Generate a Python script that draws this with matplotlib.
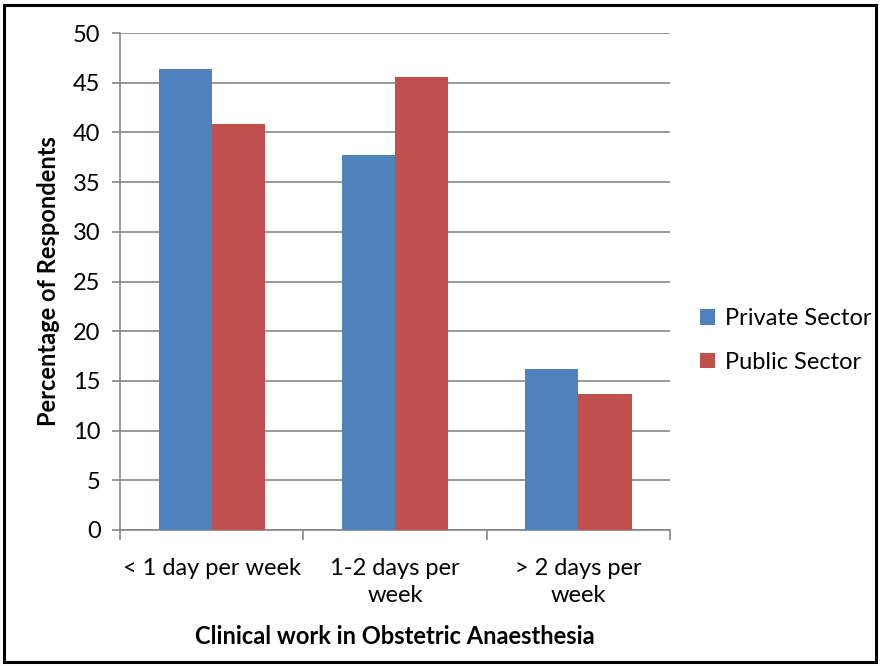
import matplotlib
matplotlib.use("Agg")
import matplotlib.pyplot as plt
import numpy as np
from matplotlib.patches import Rectangle

categories = ["< 1 day per week", "1-2 days per\nweek", "> 2 days per\nweek"]
private_sector = [46.4, 37.7, 16.2]
public_sector = [40.8, 45.6, 13.7]
series_names = ["Private Sector", "Public Sector"]

plt.rcParams['font.family'] = ['Lato', 'DejaVu Sans']

W, H = 880, 666
fig = plt.figure(figsize=(W/100, H/100), dpi=100)
ax = fig.add_axes([120/W, 1-530/H, 550/W, 497/H])

x = np.arange(len(categories))
bw = 0.29
ax.bar(x - bw/2, private_sector, bw, color='#4F81BD', label=series_names[0], zorder=3)
ax.bar(x + bw/2, public_sector, bw, color='#C0504D', label=series_names[1], zorder=3)

ax.set_xlim(-0.5, 2.5)
ax.set_ylim(0, 50)
ax.set_yticks(range(0, 51, 5))
ax.yaxis.grid(True, color='#878787', linewidth=1.2, zorder=0)
ax.set_axisbelow(True)
for s in ['top', 'right']:
    ax.spines[s].set_visible(False)
for s in ['left', 'bottom']:
    ax.spines[s].set_color('#878787')
    ax.spines[s].set_linewidth(1.2)

fs = 17
ax.set_xticks(np.arange(-0.5, 2.6, 1.0))
ax.set_xticklabels([])
ax.set_xticks(x, minor=True)
ax.set_xticklabels(categories, minor=True, fontsize=fs, linespacing=1.35)
ax.tick_params(axis='x', which='minor', length=0, pad=20)
ax.tick_params(axis='x', which='major', length=7, color='#878787', width=1.2)
ax.tick_params(axis='y', length=6, color='#878787', width=1.2, labelsize=fs, pad=8)

ax.set_ylabel("Percentage of Respondents", fontsize=17, fontweight='bold')
ax.set_xlabel("Clinical work in Obstetric Anaesthesia", fontsize=17, fontweight='bold', labelpad=14)
ax.yaxis.set_label_coords(-(120-60)/550, 0.5)

leg = ax.legend(loc='center left', bbox_to_anchor=((700-120)/550, 1-(340.5-33)/497),
                frameon=False, fontsize=fs, handlelength=0.65, handleheight=0.65,
                handletextpad=0.4, labelspacing=0.95, borderpad=0, borderaxespad=0)

fig.patches.append(Rectangle((4/W, 4/H), (W-8)/W, (H-9)/H, transform=fig.transFigure,
                             fill=False, edgecolor='black', linewidth=2.2))

fig.savefig("out.png", dpi=100)
